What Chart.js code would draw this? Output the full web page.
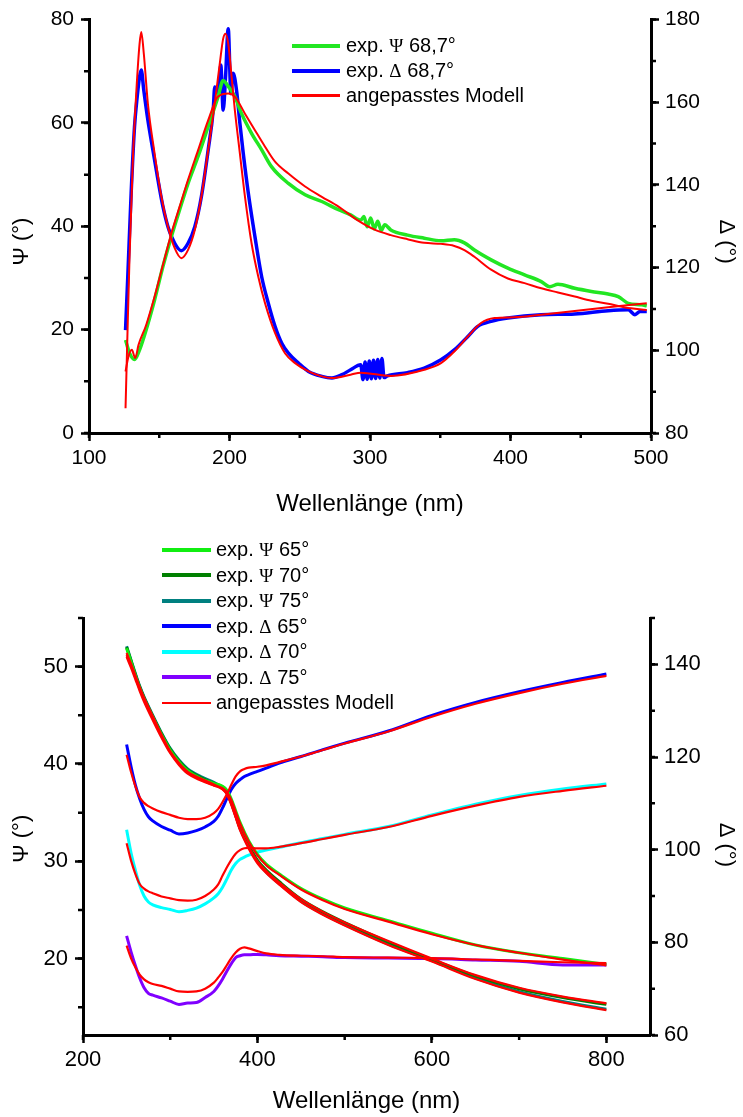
<!DOCTYPE html>
<html lang="de">
<head>
<meta charset="UTF-8">
<title>Ellipsometrie: Ψ und Δ gegen Wellenlänge</title>
<script src="https://cdn.jsdelivr.net/npm/chart.js"></script>
<style>
  body { margin: 0; background: #fff; }
  #page { position: relative; width: 743px; height: 1117px; font-family: 'Liberation Sans', Arial, sans-serif; }
  canvas { position: absolute; left: 0; }
  .legend { position: absolute; font-size: 20px; color: #000; white-space: nowrap; }
  .legend .row { display: flex; align-items: center; }
  .legend .sym { font-family: 'Liberation Serif', 'DejaVu Serif', serif; font-size: 19px; }
</style>
</head>
<body>
<div id="page">
  <canvas id="topChart" width="743" height="530" style="top:0"></canvas>
  <canvas id="bottomChart" width="743" height="587" style="top:530px"></canvas>
  <div id="legendTop" class="legend" style="left:292px; top:33px"></div>
  <div id="legendBottom" class="legend" style="left:162px; top:537px"></div>
</div>
<script>
const FONT = "'Liberation Sans', Arial, sans-serif";

// ---- upper panel: angle of incidence 68,7°
const topPsiNm = [126, 128.8, 132.4, 136, 140.7, 146.7, 152.6, 158.6, 164.5, 170.5, 177.6, 184.8, 191.9, 195.5, 198, 203.8, 208.6, 215.7, 222.9, 230, 241.9, 253.8, 265.7, 277.6, 286.2, 293.4, 295.7, 298, 300.5, 303, 305.5, 308, 310.5, 314.8, 326.7, 338.6, 350.5, 360, 367.2, 374.3, 386.2, 398.1, 410, 421.9, 427.9, 433.8, 445.7, 457.6, 469.5, 476.7, 483.8, 493.4, 497];
const topPsi = [18.0, 15.5, 14.2, 16.1, 20.0, 25.8, 32.2, 38.0, 43.2, 48.3, 53.5, 59.3, 65.1, 68.2, 67.5, 65.1, 61.8, 58.0, 54.8, 51.5, 48.3, 46.1, 44.8, 43.2, 42.2, 41.2, 41.9, 39.9, 41.6, 39.5, 41.0, 39.2, 40.3, 39.3, 38.3, 37.7, 37.2, 37.4, 36.8, 35.4, 33.5, 31.9, 30.6, 29.3, 28.3, 28.8, 28.0, 27.4, 26.9, 26.4, 25.1, 24.8, 24.6];

const topPsiFitNm = [126, 128.1, 130.5, 132.9, 135.3, 140.7, 146.7, 152.6, 158.6, 164.5, 170.5, 177.6, 184.8, 191.9, 199.1, 203.8, 211, 218.1, 225.3, 232.4, 241.9, 253.8, 265.7, 277.6, 291, 302.9, 314.8, 326.7, 338.6, 350.5, 360, 367.2, 374.3, 386.2, 398.1, 410, 421.9, 433.8, 445.7, 457.6, 469.5, 481.5, 497];
const topPsiFit = [11.9, 14.8, 16.1, 14.5, 17.1, 20.9, 26.4, 32.5, 38.6, 43.8, 49.0, 54.7, 60.5, 65.1, 65.7, 65.1, 61.8, 58.6, 55.4, 52.5, 50.2, 47.7, 45.7, 43.8, 41.2, 39.4, 38.3, 37.5, 36.8, 36.6, 36.2, 35.4, 34.1, 31.6, 29.9, 29.0, 28.0, 27.2, 26.4, 25.6, 25.0, 24.3, 23.8];

const topDelNm = [126, 127.6, 130, 132.4, 134.3, 136, 137.2, 139, 141.9, 145.5, 149.1, 152.6, 156.2, 161, 165.7, 170.5, 175.3, 180, 184.8, 188.4, 189.5, 191.9, 193.8, 195.5, 197.2, 199.1, 201, 202.6, 205, 207.4, 209.8, 213.4, 218.1, 222.9, 227.6, 232.4, 237.2, 241.9, 249.1, 256.2, 265.7, 272.9, 280, 286.2, 293.4, 295, 296.5, 298, 299.5, 301, 302.5, 304, 305.5, 307, 308.5, 310, 312.4, 326.7, 338.6, 350.5, 360, 369.5, 376.7, 386.2, 398.1, 421.9, 445.7, 469.5, 483.8, 488.6, 492.2, 497];
const topDel = [104.9, 117.8, 138.0, 154.1, 161.3, 166.2, 167.8, 162.9, 155.7, 148.4, 141.2, 134.8, 129.9, 125.9, 124.1, 125.9, 129.9, 137.2, 148.4, 158.1, 163.7, 162.1, 169.0, 158.1, 166.2, 177.8, 162.1, 167.0, 162.9, 154.9, 147.6, 138.0, 127.5, 117.8, 111.4, 105.8, 101.7, 99.3, 96.9, 94.9, 93.7, 93.3, 94.1, 95.3, 96.5, 92.9, 97.2, 93.0, 97.4, 93.1, 97.6, 93.2, 97.8, 93.3, 98.0, 93.4, 93.8, 94.6, 95.7, 97.7, 100.1, 103.3, 105.8, 107.0, 107.8, 108.6, 108.8, 109.6, 109.8, 108.6, 109.4, 109.4];

const topDelFitNm = [126, 127.2, 128.8, 131.2, 133.6, 136, 137.2, 139, 141.9, 146.7, 151.5, 156.2, 161, 165.7, 170.5, 175.3, 180, 184.8, 189.5, 193.1, 195.5, 197.2, 199.1, 201.5, 203.8, 207.4, 211, 215.7, 220.5, 225.3, 232.4, 239.5, 246.7, 256.2, 265.7, 272.9, 286.2, 293.4, 314.8, 338.6, 350.5, 360, 369.5, 379, 388.6, 402.9, 421.9, 445.7, 469.5, 497];
const topDelFit = [86.0, 101.7, 121.9, 146.0, 162.1, 174.2, 177.0, 171.8, 159.7, 147.6, 137.2, 129.9, 124.7, 122.3, 124.3, 129.1, 137.2, 148.4, 159.7, 169.4, 175.4, 176.6, 174.2, 166.2, 158.1, 147.6, 137.2, 125.9, 117.8, 111.4, 104.2, 99.3, 96.9, 94.9, 93.7, 93.3, 94.1, 94.6, 93.8, 95.3, 96.9, 99.7, 103.3, 106.6, 107.8, 108.0, 108.6, 109.5, 110.4, 111.4];

// ---- lower panel: 65°, 70°, 75°
const psiNm = [250, 255, 260, 265, 270, 280, 290, 300, 310, 320, 335, 350, 360, 365, 370, 375, 380, 390, 400, 410, 425, 450, 475, 500, 550, 600, 650, 700, 750, 800];
const psi65 = [51.9, 50.5, 49.1, 47.8, 46.7, 44.8, 43.0, 41.4, 40.2, 39.3, 38.5, 38.0, 37.7, 37.3, 36.4, 35.2, 34.0, 32.1, 30.7, 29.7, 28.7, 27.2, 26.1, 25.2, 23.9, 22.6, 21.4, 20.6, 20.0, 19.4];
const psi70 = [52.0, 50.6, 49.2, 47.9, 46.8, 44.9, 43.1, 41.5, 40.3, 39.4, 38.6, 38.0, 37.6, 37.1, 36.1, 34.8, 33.5, 31.6, 30.1, 29.1, 27.9, 26.1, 24.8, 23.7, 21.7, 19.9, 18.2, 16.9, 16.0, 15.3];
const psi75 = [52.1, 50.7, 49.3, 48.0, 46.9, 45.0, 43.2, 41.6, 40.4, 39.5, 38.7, 38.1, 37.6, 37.1, 36.0, 34.7, 33.4, 31.5, 30.0, 28.9, 27.7, 25.9, 24.6, 23.5, 21.5, 19.8, 18.0, 16.6, 15.6, 14.8];
const psiFit65 = [51.0, 49.9, 48.7, 47.5, 46.4, 44.5, 42.7, 41.1, 39.9, 39.0, 38.3, 37.8, 37.5, 37.1, 36.3, 35.1, 33.9, 32.0, 30.6, 29.6, 28.6, 27.1, 26.0, 25.1, 23.8, 22.5, 21.4, 20.6, 19.9, 19.3];
const psiFit70 = [51.2, 50.1, 48.9, 47.7, 46.6, 44.7, 42.9, 41.2, 40.0, 39.1, 38.4, 37.8, 37.4, 36.9, 35.9, 34.6, 33.3, 31.5, 30.0, 29.0, 27.8, 26.1, 24.8, 23.7, 21.8, 20.0, 18.3, 17.0, 16.1, 15.4];
const psiFit75 = [51.4, 50.3, 49.1, 47.9, 46.8, 44.9, 43.0, 41.3, 40.1, 39.2, 38.5, 37.9, 37.4, 36.9, 35.8, 34.5, 33.2, 31.3, 29.8, 28.8, 27.6, 25.8, 24.5, 23.4, 21.4, 19.7, 17.9, 16.5, 15.5, 14.7];

const delNm = [250, 255, 260, 265, 270, 275, 280, 290, 300, 310, 320, 330, 340, 350, 355, 360, 365, 370, 375, 380, 385, 390, 400, 410, 425, 450, 475, 500, 550, 600, 650, 700, 750, 800];
const del65 = [122.7, 118.0, 114.0, 111.0, 108.7, 107.1, 106.2, 105.0, 104.2, 103.4, 103.6, 104.1, 104.9, 106.1, 107.2, 109.0, 111.1, 113.0, 114.3, 115.1, 115.8, 116.2, 116.9, 117.6, 118.7, 120.1, 121.6, 123.0, 125.6, 129.0, 131.8, 134.1, 136.1, 137.9];
const del70 = [104.3, 99.4, 95.6, 92.3, 90.0, 88.7, 88.1, 87.5, 87.1, 86.6, 86.9, 87.4, 88.3, 89.6, 90.5, 91.9, 93.7, 95.6, 97.0, 97.9, 98.4, 98.8, 99.5, 99.9, 100.5, 101.5, 102.4, 103.3, 105.0, 107.5, 109.8, 111.7, 113.1, 114.2];
const del75 = [81.4, 78.0, 75.0, 72.3, 70.2, 69.0, 68.6, 68.0, 67.3, 66.6, 66.9, 67.0, 68.1, 69.4, 70.6, 72.1, 73.8, 75.4, 76.7, 77.1, 77.3, 77.3, 77.4, 77.3, 77.1, 77.0, 76.9, 76.7, 76.6, 76.5, 76.2, 75.9, 75.1, 75.1];
const delFit65 = [120.5, 116.8, 113.7, 111.3, 110.1, 109.4, 108.9, 108.1, 107.5, 106.9, 106.6, 106.6, 106.9, 107.9, 108.8, 110.3, 112.0, 114.0, 115.8, 116.9, 117.4, 117.7, 117.9, 118.2, 118.9, 120.1, 121.5, 122.9, 125.5, 128.7, 131.5, 133.8, 135.8, 137.5];
const delFit70 = [101.4, 97.7, 94.8, 92.6, 91.6, 91.0, 90.6, 89.9, 89.5, 89.1, 89.0, 89.2, 90.0, 91.4, 92.5, 94.4, 96.2, 97.8, 99.1, 99.9, 100.3, 100.4, 100.3, 100.3, 100.6, 101.4, 102.3, 103.2, 104.9, 107.3, 109.5, 111.4, 112.7, 113.8];
const delFit75 = [79.3, 76.6, 74.6, 73.0, 72.0, 71.4, 71.0, 70.6, 70.0, 69.4, 69.3, 69.4, 70.0, 71.3, 72.4, 73.6, 75.1, 76.6, 77.8, 78.6, 78.9, 78.7, 78.1, 77.6, 77.3, 77.1, 77.0, 76.8, 76.7, 76.6, 76.3, 76.0, 75.7, 75.5];

const RED = '#ff0000';
const xy = (xs, ys) => xs.map((x, i) => ({ x: x, y: ys[i] }));

function series(label, xs, ys, color, width, axis, extra) {
  return Object.assign({
    label: label, data: xy(xs, ys),
    borderColor: color, backgroundColor: color, borderWidth: width,
    yAxisID: axis, pointRadius: 0, fill: false,
    cubicInterpolationMode: 'monotone', order: 2
  }, extra || {});
}

// short minor ticks, Chart.js only draws the major ones
function minorTicks(steps) {
  return {
    id: 'minorTicks',
    afterDraw(chart) {
      const ctx = chart.ctx;
      ctx.save();
      ctx.strokeStyle = '#000';
      ctx.lineWidth = 2.5;
      ctx.beginPath();
      steps.forEach(([id, step]) => {
        const s = chart.scales[id];
        for (let v = Math.ceil(s.min / step - 1e-9) * step; v <= s.max + 1e-9; v += step) {
          const p = s.getPixelForValue(v);
          if (s.position === 'bottom') { ctx.moveTo(p, s.top); ctx.lineTo(p, s.top + 5); }
          else if (s.position === 'left') { ctx.moveTo(s.right, p); ctx.lineTo(s.right - 5, p); }
          else { ctx.moveTo(s.left, p); ctx.lineTo(s.left + 5, p); }
        }
      });
      ctx.stroke();
      ctx.restore();
    }
  };
}

function scale(position, min, max, step, title, o) {
  const horiz = position === 'bottom';
  return {
    type: 'linear', position: position, min: min, max: max,
    ticks: { stepSize: step, includeBounds: false, color: '#000', autoSkip: false, maxRotation: 0,
             font: { family: FONT, size: o.tickSize }, padding: o.tickPad },
    grid: { drawOnChartArea: false, drawTicks: true, tickLength: 8, tickWidth: 2.5, tickColor: '#000' },
    border: { display: true, color: '#000', width: 3 },
    title: { display: true, text: title, color: '#000',
             font: { family: FONT, size: horiz ? 24 : 22 },
             padding: horiz ? { top: 0, bottom: o.titlePad } : { top: o.titlePad, bottom: 0 } },
    afterFit: s => { if (horiz) s.height = o.size; else s.width = o.size; }
  };
}

// the original axis titles sit a little below the middle of the axis
const pad = n => '\u00A0'.repeat(n);

const topChart = new Chart(document.getElementById('topChart'), {
  type: 'line',
  data: {
    datasets: [
      series('exp. Ψ 68,7°', topPsiNm, topPsi, '#22e622', 3.5, 'yL', { legend: true, legendWidth: 4 }),
      series('exp. Δ 68,7°', topDelNm, topDel, '#0000ff', 3.5, 'yR', { legend: true, legendWidth: 4 }),
      series('angepasstes Modell', topPsiFitNm, topPsiFit, RED, 2, 'yL', { legend: true, legendWidth: 2.5, order: 1 }),
      series('angepasstes Modell (Δ)', topDelFitNm, topDelFit, RED, 2, 'yR', { order: 1 })
    ]
  },
  options: {
    responsive: false, animation: false,
    layout: { padding: { top: 19, left: 0, right: 0, bottom: 0 } },
    plugins: { legend: { display: false }, tooltip: { enabled: false } },
    scales: {
      x: scale('bottom', 100, 500, 100, 'Wellenlänge (nm)', { tickSize: 21, tickPad: 5, titlePad: 11, size: 97 }),
      yL: scale('left', 0, 80, 20, 'Ψ (°)' + pad(5), { tickSize: 21, tickPad: 7, titlePad: 9, size: 89 }),
      yR: scale('right', 80, 180, 20, pad(5) + 'Δ (°)', { tickSize: 21, tickPad: 6, titlePad: 4, size: 92 })
    }
  },
  plugins: [minorTicks([['x', 50], ['yL', 10], ['yR', 10]])]
});

const bottomChart = new Chart(document.getElementById('bottomChart'), {
  type: 'line',
  data: {
    datasets: [
      series('exp. Ψ 65°', psiNm, psi65, '#11ee11', 3, 'yL', { legend: true, legendWidth: 4 }),
      series('exp. Ψ 70°', psiNm, psi70, '#008000', 3, 'yL', { legend: true, legendWidth: 4 }),
      series('exp. Ψ 75°', psiNm, psi75, '#008080', 3, 'yL', { legend: true, legendWidth: 4 }),
      series('exp. Δ 65°', delNm, del65, '#0000ff', 3, 'yR', { legend: true, legendWidth: 4 }),
      series('exp. Δ 70°', delNm, del70, '#00ffff', 3, 'yR', { legend: true, legendWidth: 4 }),
      series('exp. Δ 75°', delNm, del75, '#8000ff', 3, 'yR', { legend: true, legendWidth: 4 }),
      series('angepasstes Modell', psiNm, psiFit65, RED, 2.2, 'yL', { legend: true, legendWidth: 2.5, order: 1 }),
      series('Modell Ψ 70°', psiNm, psiFit70, RED, 2.2, 'yL', { order: 1 }),
      series('Modell Ψ 75°', psiNm, psiFit75, RED, 2.2, 'yL', { order: 1 }),
      series('Modell Δ 65°', delNm, delFit65, RED, 2.2, 'yR', { order: 1 }),
      series('Modell Δ 70°', delNm, delFit70, RED, 2.2, 'yR', { order: 1 }),
      series('Modell Δ 75°', delNm, delFit75, RED, 2.2, 'yR', { order: 1 })
    ]
  },
  options: {
    responsive: false, animation: false,
    layout: { padding: { top: 88, left: 0, right: 0, bottom: 0 } },
    plugins: { legend: { display: false }, tooltip: { enabled: false } },
    scales: {
      x: scale('bottom', 200, 850, 200, 'Wellenlänge (nm)', { tickSize: 22, tickPad: 4, titlePad: 1, size: 82 }),
      yL: scale('left', 12.15, 55, 10, 'Ψ (°)' + pad(4), { tickSize: 22, tickPad: 7, titlePad: 9, size: 83 }),
      yR: scale('right', 60, 150, 20, pad(6) + 'Δ (°)', { tickSize: 22, tickPad: 6, titlePad: 4, size: 93 })
    }
  },
  plugins: [minorTicks([['x', 100], ['yL', 5], ['yR', 10]])]
});

// HTML legend built from the datasets
function buildLegend(el, chart, lineLen, gap, rowH) {
  chart.data.datasets.filter(d => d.legend).forEach(d => {
    const row = document.createElement('div');
    row.className = 'row';
    row.style.height = rowH + 'px';
    const sw = document.createElement('span');
    sw.style.display = 'inline-block';
    sw.style.width = lineLen + 'px';
    sw.style.height = d.legendWidth + 'px';
    sw.style.background = d.borderColor;
    sw.style.marginRight = gap + 'px';
    const tx = document.createElement('span');
    tx.innerHTML = d.label.replace(/([ΨΔ])/g, '<span class="sym">$1</span>');
    row.append(sw, tx);
    el.appendChild(row);
  });
}
buildLegend(document.getElementById('legendTop'), topChart, 48, 6, 25);
buildLegend(document.getElementById('legendBottom'), bottomChart, 49, 5, 25.5);
</script>
</body>
</html>
